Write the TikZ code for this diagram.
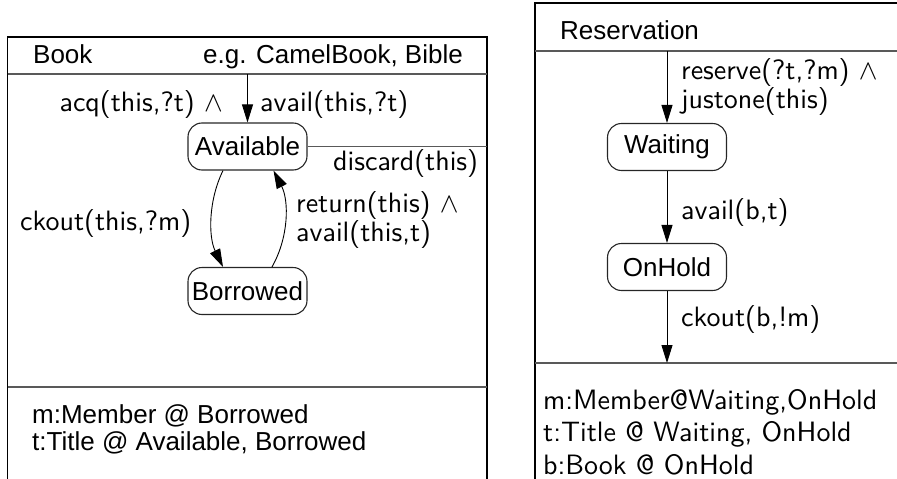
\RequirePackage{fix-cm}
\documentclass[tikz,border=0pt]{standalone}
\usepackage{fontspec}
\newfontfamily\hv{Liberation Sans}
\newfontfamily\cmss{lmsans10-regular}[Extension=.otf]
\usetikzlibrary{arrows.meta}

\tikzset{
  frame/.style={line width=1.1pt, draw=black},
  divider/.style={line width=1.3pt, draw=black!65},
  state/.style={draw=black!85, line width=1.1pt, rounded corners=14pt,
    minimum width=119pt, minimum height=47pt, inner sep=0pt,
    font=\hv\fontsize{26}{30}\selectfont},
  heading/.style={inner sep=0pt, font=\hv\fontsize{26}{30}\selectfont},
  attr/.style={inner sep=0pt, font=\hv\fontsize{26}{26.7}\selectfont, align=left},
  trans/.style={-{Triangle[length=18pt,width=11pt]}, line width=0.9pt},
  lbl/.style={inner sep=0pt, font=\cmss\fontsize{28}{23.4}\selectfont, align=left},
}

\begin{document}
\begin{tikzpicture}[x=1pt,y=-1pt]
\useasboundingbox (0,0) rectangle (897,479);

% ---------- Book ----------
\draw[frame] (7.5,490) -- (7.5,37) -- (487,37) -- (487,490);
\draw[divider] (7.5,74) -- (487,74);
\draw[divider] (7.5,387) -- (487,387);

\node[heading, anchor=base west] (bookName) at (33,63.5) {Book};
\node[heading, anchor=base east] (bookEg) at (463,63.5) {e.g. CamelBook, Bible};

\node[state] (available) at (247.5,146.5) {Available};
\node[state] (borrowed) at (247.5,291) {Borrowed};

\coordinate (bookInit) at (247.5,74);
\coordinate (bookEdge) at (487,146.5);

\draw[trans] (bookInit) -- (available);
\draw[divider] (available.east) -- (bookEdge);
\draw[trans] ([xshift=-24.5pt]available.south) .. controls +(-14.7,30) and +(-14.7,-30) .. ([xshift=-24.5pt]borrowed.north);
\draw[trans] ([xshift=24.5pt]borrowed.north) .. controls +(17,-30) and +(15.5,30) .. ([xshift=26pt]available.south);

\node[lbl, anchor=base east] (acqL) at (223,111) {acq(this,?t) $\wedge$};
\node[lbl, anchor=base west] (availL) at (260,111) {avail(this,?t)};
\node[lbl, anchor=base west] (discardL) at (333,170) {discard(this)};
\node[lbl, anchor=base west] (ckoutL) at (20,230.5) {ckout(this,?m)};
% multi-line nodes: the base anchor sits on the last line
\node[lbl, anchor=base west] (returnL) at (296,241.7) {return(this) $\wedge$\\avail(this,t)};

\node[attr, anchor=base west] (bookAttr) at (32,450.5) {m:Member @ Borrowed\\t:Title @ Available, Borrowed};

% ---------- Reservation ----------
\draw[frame] (535,490) -- (535,3) -- (905,3);
\draw[divider] (535,51) -- (905,51);
\draw[divider] (535,363) -- (905,363);

\node[heading, anchor=base west] (resName) at (560,39.5) {Reservation};

\node[state] (waiting) at (667,147) {Waiting};
\node[state] (onhold) at (667,267) {OnHold};

\coordinate (resInit) at (667,51);
\coordinate (resEnd) at (667,363);

\draw[trans] (resInit) -- (waiting);
\draw[trans] (waiting) -- (onhold);
\draw[trans] (onhold) -- (resEnd);

\node[lbl, anchor=base west, font=\cmss\fontsize{28}{21}\selectfont] (reserveL) at (681,108.5) {reserve(?t,?m) $\wedge$\\justone(this)};
\node[lbl, anchor=base west] (availBL) at (681,219.3) {avail(b,t)};
\node[lbl, anchor=base west] (ckoutBL) at (681,326.7) {ckout(b,!m)};

\node[lbl, anchor=base west, font=\cmss\fontsize{28}{32.5}\selectfont] (resAttr) at (543,474) {m:Member@Waiting,OnHold\\t:Title @ Waiting, OnHold\\b:Book @ OnHold};
\end{tikzpicture}
\end{document}
